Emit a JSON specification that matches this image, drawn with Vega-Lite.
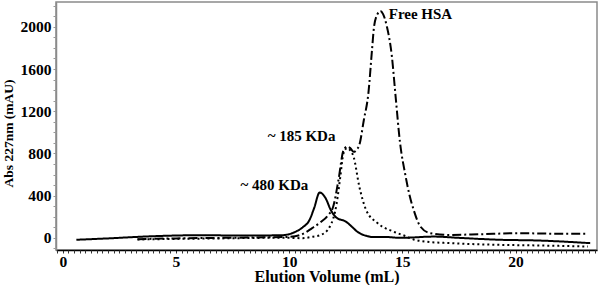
{
  "$schema": "https://vega.github.io/schema/vega-lite/v6.json",
  "autosize": {"type": "none"},
  "padding": {"left": 56, "top": 2, "right": 3, "bottom": 35},
  "width": 541,
  "height": 248,
  "background": "white",
  "config": {
    "view": {"stroke": "#8a8a8a", "strokeWidth": 1.5},
    "font": "Liberation Serif"
  },
  "resolve": {"axis": {"x": "independent", "y": "independent"}},
  "datasets": {
    "curves": [
      {"series": "480", "vol": 0.6, "abs": -18},
      {"series": "480", "vol": 2.0, "abs": -5},
      {"series": "480", "vol": 3.9, "abs": 15},
      {"series": "480", "vol": 6.0, "abs": 25},
      {"series": "480", "vol": 8.0, "abs": 22},
      {"series": "480", "vol": 9.7, "abs": 25},
      {"series": "480", "vol": 10.0, "abs": 35},
      {"series": "480", "vol": 10.3, "abs": 60},
      {"series": "480", "vol": 10.6, "abs": 100},
      {"series": "480", "vol": 10.9, "abs": 170},
      {"series": "480", "vol": 11.1, "abs": 280},
      {"series": "480", "vol": 11.35, "abs": 430},
      {"series": "480", "vol": 11.6, "abs": 380},
      {"series": "480", "vol": 11.85, "abs": 260},
      {"series": "480", "vol": 12.1, "abs": 190},
      {"series": "480", "vol": 12.5, "abs": 155},
      {"series": "480", "vol": 12.8, "abs": 100},
      {"series": "480", "vol": 13.0, "abs": 60},
      {"series": "480", "vol": 13.4, "abs": 20},
      {"series": "480", "vol": 13.7, "abs": 8},
      {"series": "480", "vol": 14.3, "abs": 8},
      {"series": "480", "vol": 14.9, "abs": 0},
      {"series": "480", "vol": 16.4, "abs": 12},
      {"series": "480", "vol": 17.5, "abs": 0},
      {"series": "480", "vol": 19.3, "abs": -18},
      {"series": "480", "vol": 21.0, "abs": -25},
      {"series": "480", "vol": 23.3, "abs": -50},

      {"series": "HSA", "vol": 3.3, "abs": -12},
      {"series": "HSA", "vol": 5.0, "abs": -5},
      {"series": "HSA", "vol": 7.0, "abs": 0},
      {"series": "HSA", "vol": 9.0, "abs": 5},
      {"series": "HSA", "vol": 10.0, "abs": 10},
      {"series": "HSA", "vol": 10.5, "abs": 28},
      {"series": "HSA", "vol": 11.0, "abs": 90},
      {"series": "HSA", "vol": 11.4, "abs": 150},
      {"series": "HSA", "vol": 11.7, "abs": 210},
      {"series": "HSA", "vol": 11.95, "abs": 300},
      {"series": "HSA", "vol": 12.18, "abs": 550},
      {"series": "HSA", "vol": 12.4, "abs": 830},
      {"series": "HSA", "vol": 12.55, "abs": 865},
      {"series": "HSA", "vol": 12.7, "abs": 850},
      {"series": "HSA", "vol": 12.85, "abs": 815},
      {"series": "HSA", "vol": 13.0, "abs": 840},
      {"series": "HSA", "vol": 13.1, "abs": 880},
      {"series": "HSA", "vol": 13.3, "abs": 1117},
      {"series": "HSA", "vol": 13.5, "abs": 1370},
      {"series": "HSA", "vol": 13.66, "abs": 1780},
      {"series": "HSA", "vol": 13.75, "abs": 2000},
      {"series": "HSA", "vol": 13.9, "abs": 2120},
      {"series": "HSA", "vol": 14.03, "abs": 2150},
      {"series": "HSA", "vol": 14.15, "abs": 2120},
      {"series": "HSA", "vol": 14.32, "abs": 2000},
      {"series": "HSA", "vol": 14.54, "abs": 1717},
      {"series": "HSA", "vol": 14.69, "abs": 1370},
      {"series": "HSA", "vol": 14.9, "abs": 900},
      {"series": "HSA", "vol": 15.13, "abs": 600},
      {"series": "HSA", "vol": 15.3, "abs": 420},
      {"series": "HSA", "vol": 15.5, "abs": 265},
      {"series": "HSA", "vol": 15.8, "abs": 107},
      {"series": "HSA", "vol": 16.24, "abs": 44},
      {"series": "HSA", "vol": 17.1, "abs": 28},
      {"series": "HSA", "vol": 18.5, "abs": 35},
      {"series": "HSA", "vol": 20.1, "abs": 44},
      {"series": "HSA", "vol": 21.5, "abs": 40},
      {"series": "HSA", "vol": 23.2, "abs": 38},

      {"series": "185", "vol": 3.3, "abs": -15},
      {"series": "185", "vol": 5.0, "abs": -10},
      {"series": "185", "vol": 7.0, "abs": -5},
      {"series": "185", "vol": 9.0, "abs": 0},
      {"series": "185", "vol": 10.0, "abs": 0},
      {"series": "185", "vol": 10.6, "abs": -3},
      {"series": "185", "vol": 11.0, "abs": 10},
      {"series": "185", "vol": 11.4, "abs": 28},
      {"series": "185", "vol": 11.8, "abs": 107},
      {"series": "185", "vol": 12.1, "abs": 328},
      {"series": "185", "vol": 12.26, "abs": 580},
      {"series": "185", "vol": 12.4, "abs": 800},
      {"series": "185", "vol": 12.55, "abs": 850},
      {"series": "185", "vol": 12.7, "abs": 830},
      {"series": "185", "vol": 12.85, "abs": 766},
      {"series": "185", "vol": 13.1, "abs": 486},
      {"series": "185", "vol": 13.4, "abs": 265},
      {"series": "185", "vol": 13.9, "abs": 140},
      {"series": "185", "vol": 14.6, "abs": 60},
      {"series": "185", "vol": 15.1, "abs": 20},
      {"series": "185", "vol": 15.5, "abs": -15},
      {"series": "185", "vol": 16.0, "abs": -35},
      {"series": "185", "vol": 17.1, "abs": -50},
      {"series": "185", "vol": 19.3, "abs": -66},
      {"series": "185", "vol": 21.0, "abs": -72},
      {"series": "185", "vol": 23.2, "abs": -82}
    ],
    "notes": [
      {"label": "Free HSA", "vol": 14.4, "abs": 2120},
      {"label": "~ 185 KDa", "vol": 9.05, "abs": 966},
      {"label": "~ 480 KDa", "vol": 7.85, "abs": 502}
    ]
  },
  "layer": [
    {
      "data": {"name": "curves"},
      "mark": {"type": "line", "color": "black", "strokeWidth": 2, "interpolate": "monotone"},
      "encoding": {
        "x": {
          "field": "vol", "type": "quantitative",
          "scale": {"domain": [-0.3, 23.6], "nice": false, "zero": false},
          "axis": {
            "orient": "bottom",
            "title": "Elution Volume (mL)",
            "values": [0, 5, 10, 15, 20],
            "format": "d",
            "labelOverlap": false,
            "labelFlush": false,
            "grid": false,
            "domainColor": "black",
            "domainWidth": 1.5,
            "tickColor": "#333",
            "tickSize": 3,
            "tickWidth": 1,
            "labelPadding": 1,
            "labelFont": "Liberation Serif",
            "labelFontWeight": "bold",
            "labelFontSize": 15.5,
            "labelColor": "black",
            "titleFont": "Liberation Serif",
            "titleFontWeight": "bold",
            "titleFontSize": 16,
            "titleColor": "black",
            "titleBaseline": "alphabetic",
            "titleY": 31
          }
        },
        "y": {
          "field": "abs", "type": "quantitative",
          "scale": {"domain": [-115, 2235], "nice": false, "zero": false},
          "axis": {
            "orient": "left",
            "title": "Abs 227nm (mAU)",
            "values": [0, 400, 800, 1200, 1600, 2000],
            "format": "d",
            "labelOverlap": false,
            "labelFlush": false,
            "grid": false,
            "domainColor": "#8a8a8a",
            "domainWidth": 1.5,
            "tickColor": "#999",
            "tickSize": 3,
            "labelPadding": 2,
            "labelFont": "Liberation Serif",
            "labelFontWeight": "bold",
            "labelFontSize": 15.5,
            "labelColor": "black",
            "titleFont": "Liberation Serif",
            "titleFontWeight": "bold",
            "titleFontSize": 13.5,
            "titleColor": "black",
            "titleAngle": -90,
            "titleAlign": "center",
            "titleBaseline": "middle",
            "titleX": -48,
            "titleY": 131
          }
        },
        "detail": {"field": "series"},
        "strokeDash": {
          "field": "series", "type": "nominal",
          "scale": {"domain": ["480", "185", "HSA"], "range": [[1, 0], [2, 3], [9, 3, 2, 3]]},
          "legend": null
        }
      }
    },
    {
      "data": {"name": "notes"},
      "mark": {"type": "text", "align": "left", "baseline": "middle", "font": "Liberation Serif", "fontWeight": "bold", "fontSize": 15, "color": "black"},
      "encoding": {
        "x": {
          "field": "vol", "type": "quantitative",
          "axis": {
            "orient": "bottom",
            "values": [-0.25,0.25,0.5,0.75,1,1.25,1.5,1.75,2,2.25,2.5,2.75,3,3.25,3.5,3.75,4,4.25,4.5,4.75,5.25,5.5,5.75,6,6.25,6.5,6.75,7,7.25,7.5,7.75,8,8.25,8.5,8.75,9,9.25,9.5,9.75,10.25,10.5,10.75,11,11.25,11.5,11.75,12,12.25,12.5,12.75,13,13.25,13.5,13.75,14,14.25,14.5,14.75,15.25,15.5,15.75,16,16.25,16.5,16.75,17,17.25,17.5,17.75,18,18.25,18.5,18.75,19,19.25,19.5,19.75,20.25,20.5,20.75,21,21.25,21.5,21.75,22,22.25,22.5,22.75,23,23.25,23.5],
            "labels": false,
            "domain": false,
            "grid": false,
            "title": null,
            "tickColor": "#333",
            "tickSize": 3,
            "tickWidth": 1
          }
        },
        "y": {
          "field": "abs", "type": "quantitative",
          "axis": {
            "orient": "left",
            "values": [-100,100,200,300,500,600,700,900,1000,1100,1300,1400,1500,1700,1800,1900,2100,2200],
            "labels": false,
            "domain": false,
            "grid": false,
            "title": null,
            "tickColor": "#999",
            "tickSize": 3
          }
        },
        "text": {"field": "label"}
      }
    }
  ]
}
